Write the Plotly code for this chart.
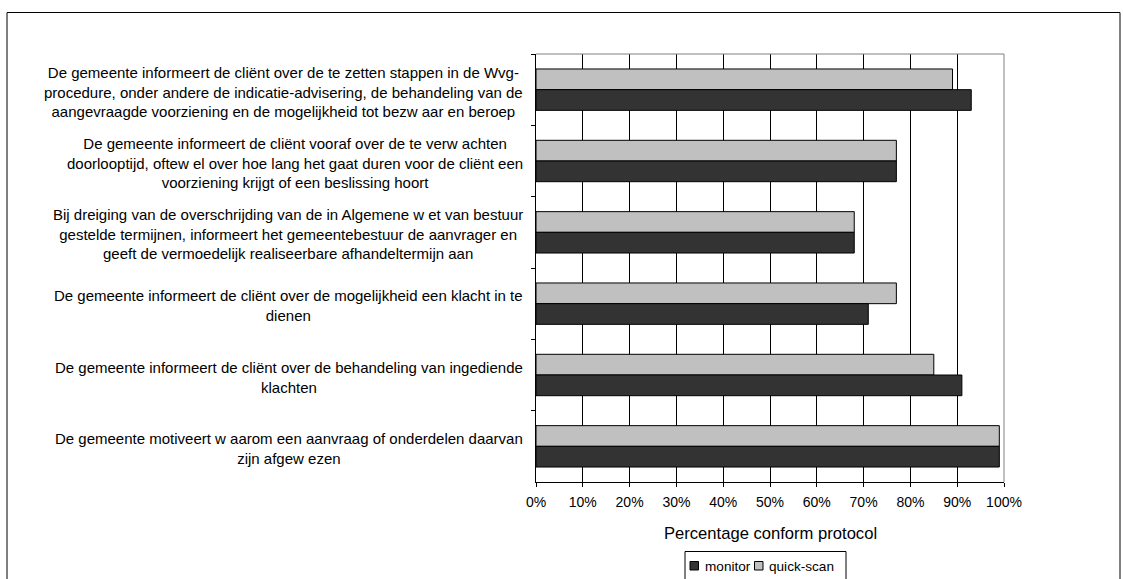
import plotly.graph_objects as go

# Survey statements (wrapped over lines as shown beside the bars)
categories = [
    "De gemeente informeert de cliënt over de te zetten stappen in de Wvg-<br>"
    "procedure, onder andere de indicatie-advisering, de behandeling van de<br>"
    "aangevraagde voorziening en de mogelijkheid tot bezw aar en beroep",
    "De gemeente informeert de cliënt vooraf over de te verw achten<br>"
    "doorlooptijd, oftew el over hoe lang het gaat duren voor de cliënt een<br>"
    "voorziening krijgt of een beslissing hoort",
    "Bij dreiging van de overschrijding van de in Algemene w et van bestuur<br>"
    "gestelde termijnen, informeert het gemeentebestuur de aanvrager en<br>"
    "geeft de vermoedelijk realiseerbare afhandeltermijn aan",
    "De gemeente informeert de cliënt over de mogelijkheid een klacht in te<br>"
    "dienen",
    "De gemeente informeert de cliënt over de behandeling van ingediende<br>"
    "klachten",
    "De gemeente motiveert w aarom een aanvraag of onderdelen daarvan<br>"
    "zijn afgew ezen",
]

# Percentage conform protocol per statement
monitor = [93, 77, 68, 71, 91, 99]
quick_scan = [89, 77, 68, 77, 85, 99]

series_names = ["monitor", "quick-scan"]
series_colors = {"monitor": "#333333", "quick-scan": "#c0c0c0"}

x_ticks = list(range(0, 101, 10))
x_ticktext = [f"{v}%" for v in x_ticks]
x_title = "Percentage conform protocol"

FONT = "Liberation Sans, Arial, sans-serif"
W, H = 1123, 579
ML, MR, MT, MB = 536, 119, 54, 97
PW, PH = W - ML - MR, H - MT - MB


def px_x(px):
    return (px - ML) / PW


def px_y(py):
    return (H - MB - py) / PH


fig = go.Figure()
# quick-scan first so it sits above monitor within each group (reversed axis)
fig.add_trace(go.Bar(
    y=categories, x=quick_scan, orientation="h", name="quick-scan",
    marker=dict(color=series_colors["quick-scan"], line=dict(color="#000000", width=1)),
    showlegend=False,
))
fig.add_trace(go.Bar(
    y=categories, x=monitor, orientation="h", name="monitor",
    marker=dict(color=series_colors["monitor"], line=dict(color="#000000", width=1)),
    showlegend=False,
))

annotations = []
for cat in categories:
    annotations.append(dict(
        x=px_x(525), xref="paper", y=cat, yref="y",
        xanchor="right", yanchor="middle", align="center", yshift=-2,
        text=cat, showarrow=False,
        font=dict(family=FONT, size=15, color="#000000"),
    ))

annotations.append(dict(
    x=px_x(770), xref="paper", y=px_y(533), yref="paper",
    xanchor="center", yanchor="middle", text=x_title, showarrow=False,
    font=dict(family=FONT, size=16.6, color="#000000"),
))

shapes = [
    # outer chart frame
    dict(type="rect", xref="paper", yref="paper",
         x0=px_x(7), x1=px_x(1120), y0=px_y(600), y1=px_y(12.5),
         line=dict(color="#000000", width=1), fillcolor="rgba(0,0,0,0)", layer="below"),
    # plot-area border (top and right)
    dict(type="line", xref="x domain", yref="y domain", x0=0, x1=1, y0=1, y1=1,
         line=dict(color="#808080", width=1), layer="above"),
    dict(type="line", xref="x domain", yref="y domain", x0=1, x1=1, y0=0, y1=1,
         line=dict(color="#808080", width=1), layer="above"),
    # legend box
    dict(type="rect", xref="paper", yref="paper",
         x0=px_x(685), x1=px_x(846), y0=px_y(600), y1=px_y(551.5),
         line=dict(color="#000000", width=1), fillcolor="#ffffff", layer="below"),
]

legend_x = {"monitor": (690, 705), "quick-scan": (754.5, 769)}
for name in series_names:
    sx, tx = legend_x[name]
    shapes.append(dict(
        type="rect", xref="paper", yref="paper",
        x0=px_x(sx), x1=px_x(sx + 8.5), y0=px_y(570), y1=px_y(561.5),
        line=dict(color="#000000", width=1), fillcolor=series_colors[name], layer="above",
    ))
    annotations.append(dict(
        x=px_x(tx), xref="paper", y=px_y(566), yref="paper",
        xanchor="left", yanchor="middle", text=name, showarrow=False,
        xshift=-2,
        font=dict(family=FONT, size=13.6, color="#000000"),
    ))

fig.update_layout(
    width=W, height=H,
    margin=dict(l=ML, r=MR, t=MT, b=MB, pad=0),
    paper_bgcolor="#ffffff", plot_bgcolor="#ffffff",
    barmode="group", bargap=0.42, bargroupgap=0,
    font=dict(family=FONT, size=14, color="#000000"),
    showlegend=False,
    annotations=annotations,
    shapes=shapes,
)

fig.update_xaxes(
    range=[0, 100], tickmode="array", tickvals=x_ticks, ticktext=x_ticktext,
    ticks="outside", ticklen=4, tickcolor="#000000", tickwidth=1,
    ticklabelstandoff=3,
    showline=True, linecolor="#000000", linewidth=1,
    showgrid=True, gridcolor="#000000", gridwidth=1, zeroline=False,
    tickfont=dict(family=FONT, size=14, color="#000000"),
    fixedrange=True,
)
fig.update_yaxes(
    type="category", autorange="reversed", showticklabels=False,
    ticks="outside", tickson="boundaries", ticklen=4, tickcolor="#000000",
    showline=True, linecolor="#000000", linewidth=1,
    showgrid=False, zeroline=False, fixedrange=True,
)

fig.write_html("out.html", config={"displayModeBar": False})
